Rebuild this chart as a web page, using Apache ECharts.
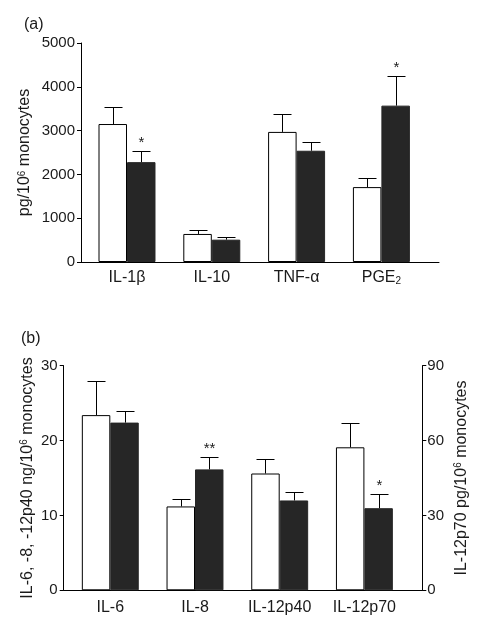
<!DOCTYPE html>
<html>
<head>
<meta charset="utf-8">
<script src="https://cdn.jsdelivr.net/npm/echarts@6/dist/echarts.min.js"></script>
<style>html,body{margin:0;padding:0;background:#fff}#c{width:495px;height:618px}</style>
</head>
<body>
<div id="c"></div>
<script>
// ---- Panel (a) data ----
const catsA = ['IL-1β', 'IL-10', 'TNF-α', 'PGE2'];
const controlA = [3150, 640, 2970, 1710];
const controlSemA = [390, 90, 410, 200];
const patientA = [2280, 510, 2540, 3570];
const patientSemA = [265, 60, 200, 680];
const starsA = ['*', '', '', '*'];
const ticksA = [0, 1000, 2000, 3000, 4000, 5000];

// ---- Panel (b) data ----
const catsB = ['IL-6', 'IL-8', 'IL-12p40', 'IL-12p70'];
// left axis (ng/10^6): IL-6, IL-8, IL-12p40
const controlBL = [23.4, 11.2, 15.6, '-'];
const controlSemBL = [4.5, 0.95, 1.95, '-'];
const patientBL = [22.4, 16.15, 12.0, '-'];
const patientSemBL = [1.6, 1.6, 1.15, '-'];
const starsBL = ['', '**', '', ''];
// right axis (pg/10^6): IL-12p70
const controlBR = ['-', '-', '-', 57.3];
const controlSemBR = ['-', '-', '-', 9.9];
const patientBR = ['-', '-', '-', 32.9];
const patientSemBR = ['-', '-', '-', 5.6];
const starsBR = ['', '', '', '*'];
const ticksBL = [0, 10, 20, 30];
const ticksBR = [0, 30, 60, 90];

const FONT = 'Liberation Sans, Arial, Helvetica, sans-serif';
const TXT = '#1a1a1a';
const BAR_FRAC = 0.336;
const BLACK = '#262626';

function errData(means, sems, side) {
  const out = [];
  means.forEach((m, i) => {
    if (m === '-' || m == null) return;
    out.push([i, m, m + sems[i], side]);
  });
  return out;
}

function makeErrRender(stars) {
  return function (params, api) {
    const cat = api.value(0), v = api.value(1), t = api.value(2), side = api.value(3);
    const star = stars ? stars[cat] : '';
    const band = api.size([1, 0])[0];
    const half = band * BAR_FRAC / 2;
    const p0 = api.coord([cat, v]);
    const p1 = api.coord([cat, t]);
    const x = Math.round(p0[0] + side * half) + 0.5;
    const yTop = Math.round(p1[1]) + 0.5;
    const children = [
      {type: 'line', shape: {x1: x, y1: p0[1], x2: x, y2: yTop}, style: {stroke: '#000', lineWidth: 1}},
      {type: 'line', shape: {x1: x - 9, y1: yTop, x2: x + 9, y2: yTop}, style: {stroke: '#000', lineWidth: 1}}
    ];
    if (star) {
      children.push({type: 'text', style: {text: star, x: x, y: yTop - 1, align: 'center', verticalAlign: 'bottom',
        fontSize: 15, fontFamily: FONT, fill: TXT}});
    }
    return {type: 'group', children: children};
  };
}

function catFormatter(v) {
  if (v === 'PGE2') return 'PGE{sub|2}';
  return v;
}
const plainNum = (v) => String(v);
const catRich = {sub: {fontSize: 10, fontFamily: FONT, color: TXT, verticalAlign: 'bottom', padding: [6, 0, 0, 0]}};
const supRich = {sup: {fontSize: 10, fontFamily: FONT, color: TXT, verticalAlign: 'top', padding: [0, 0, 5, 0]}};

const frameX = (gi) => ({
  type: 'value', gridIndex: gi, min: 0, max: 1, show: true,
  axisLine: {show: true, lineStyle: {color: '#000', width: 1}},
  axisTick: {show: false}, axisLabel: {show: false}, splitLine: {show: false}
});

const option = {
  backgroundColor: '#fff',
  animation: false,
  title: [
    {text: '(a)', left: 19, top: 12, textStyle: {fontSize: 16, fontWeight: 'normal', fontFamily: FONT, color: TXT}},
    {text: '(b)', left: 16, top: 326, textStyle: {fontSize: 16, fontWeight: 'normal', fontFamily: FONT, color: TXT}}
  ],
  grid: [
    {left: 81, top: 43, width: 358, height: 219, containLabel: false, outerBoundsMode: 'none'},
    {left: 84.6, top: 43, width: 339.2, height: 219, containLabel: false, outerBoundsMode: 'none'},
    {left: 63.7, top: 365.7, width: 358.6, height: 224.6, containLabel: false, outerBoundsMode: 'none'},
    {left: 67.95, top: 365.7, width: 338.8, height: 224.6, containLabel: false, outerBoundsMode: 'none'}
  ],
  xAxis: [
    frameX(0),
    {type: 'category', gridIndex: 1, data: catsA, axisLine: {show: false}, axisTick: {show: false},
      axisLabel: {interval: 0, fontSize: 16, fontFamily: FONT, color: TXT, margin: 8, formatter: catFormatter, rich: catRich}},
    frameX(2),
    {type: 'category', gridIndex: 3, data: catsB, axisLine: {show: false}, axisTick: {show: false},
      axisLabel: {interval: 0, fontSize: 16, fontFamily: FONT, color: TXT, margin: 9}},
    {type: 'category', gridIndex: 3, data: catsB, show: false}
  ],
  yAxis: [
    {type: 'value', gridIndex: 0, min: ticksA[0], max: ticksA[ticksA.length - 1], interval: 1000,
      axisLine: {show: true, lineStyle: {color: '#000'}}, axisTick: {show: true, length: 4, lineStyle: {color: '#000'}},
      axisLabel: {fontSize: 15, fontFamily: FONT, color: TXT, margin: 6, formatter: plainNum}, splitLine: {show: false},
      name: 'pg/10{sup|6} monocytes', nameLocation: 'middle', nameGap: 48, nameMoveOverlap: false,
      nameTextStyle: {fontSize: 16, fontFamily: FONT, color: TXT, rich: supRich}},
    {type: 'value', gridIndex: 1, min: 0, max: 5000, show: false},
    {type: 'value', gridIndex: 2, min: ticksBL[0], max: ticksBL[ticksBL.length - 1], interval: 10, position: 'left',
      axisLine: {show: true, lineStyle: {color: '#000'}}, axisTick: {show: true, length: 4, lineStyle: {color: '#000'}},
      axisLabel: {fontSize: 15, fontFamily: FONT, color: TXT, margin: 6, formatter: plainNum}, splitLine: {show: false},
      name: 'IL-6, -8, -12p40 ng/10{sup|6} monocytes', nameLocation: 'middle', nameGap: 28, nameMoveOverlap: false,
      nameTextStyle: {fontSize: 16, fontFamily: FONT, color: TXT, rich: supRich}},
    {type: 'value', gridIndex: 2, min: ticksBR[0], max: ticksBR[ticksBR.length - 1], interval: 30, position: 'right',
      axisLine: {show: true, lineStyle: {color: '#000'}}, axisTick: {show: true, length: 4, lineStyle: {color: '#000'}},
      axisLabel: {fontSize: 15, fontFamily: FONT, color: TXT, margin: 5, formatter: plainNum}, splitLine: {show: false},
      name: 'IL-12p70 pg/10{sup|6} monocytes', nameLocation: 'middle', nameGap: 31, nameMoveOverlap: false,
      nameTextStyle: {fontSize: 16, fontFamily: FONT, color: TXT, rich: supRich}},
    {type: 'value', gridIndex: 3, min: 0, max: 30, show: false},
    {type: 'value', gridIndex: 3, min: 0, max: 90, show: false}
  ],
  series: [
    // Panel (a)
    {type: 'bar', xAxisIndex: 1, yAxisIndex: 1, data: controlA, barWidth: (BAR_FRAC * 100) + '%', barGap: '0%',
      itemStyle: {color: '#fff', borderColor: '#000', borderWidth: 1}},
    {type: 'bar', xAxisIndex: 1, yAxisIndex: 1, data: patientA, barWidth: (BAR_FRAC * 100) + '%', barGap: '0%',
      itemStyle: {color: BLACK, borderColor: BLACK, borderWidth: 1}},
    {type: 'custom', xAxisIndex: 1, yAxisIndex: 1, renderItem: makeErrRender(null), data: errData(controlA, controlSemA, -1), z: 3},
    {type: 'custom', xAxisIndex: 1, yAxisIndex: 1, renderItem: makeErrRender(starsA), data: errData(patientA, patientSemA, 1), z: 3},
    // Panel (b) left axis
    {type: 'bar', xAxisIndex: 3, yAxisIndex: 4, data: controlBL, barWidth: (BAR_FRAC * 100) + '%', barGap: '0%',
      itemStyle: {color: '#fff', borderColor: '#000', borderWidth: 1}},
    {type: 'bar', xAxisIndex: 3, yAxisIndex: 4, data: patientBL, barWidth: (BAR_FRAC * 100) + '%', barGap: '0%',
      itemStyle: {color: BLACK, borderColor: BLACK, borderWidth: 1}},
    {type: 'custom', xAxisIndex: 3, yAxisIndex: 4, renderItem: makeErrRender(null), data: errData(controlBL, controlSemBL, -1), z: 3},
    {type: 'custom', xAxisIndex: 3, yAxisIndex: 4, renderItem: makeErrRender(starsBL), data: errData(patientBL, patientSemBL, 1), z: 3},
    // Panel (b) right axis
    {type: 'bar', xAxisIndex: 4, yAxisIndex: 5, data: controlBR, barWidth: (BAR_FRAC * 100) + '%', barGap: '0%',
      itemStyle: {color: '#fff', borderColor: '#000', borderWidth: 1}},
    {type: 'bar', xAxisIndex: 4, yAxisIndex: 5, data: patientBR, barWidth: (BAR_FRAC * 100) + '%', barGap: '0%',
      itemStyle: {color: BLACK, borderColor: BLACK, borderWidth: 1}},
    {type: 'custom', xAxisIndex: 4, yAxisIndex: 5, renderItem: makeErrRender(null), data: errData(controlBR, controlSemBR, -1), z: 3},
    {type: 'custom', xAxisIndex: 4, yAxisIndex: 5, renderItem: makeErrRender(starsBR), data: errData(patientBR, patientSemBR, 1), z: 3}
  ]
};

const chart = echarts.init(document.getElementById('c'), null, {renderer: 'canvas'});
chart.setOption(option);
</script>
</body>
</html>
